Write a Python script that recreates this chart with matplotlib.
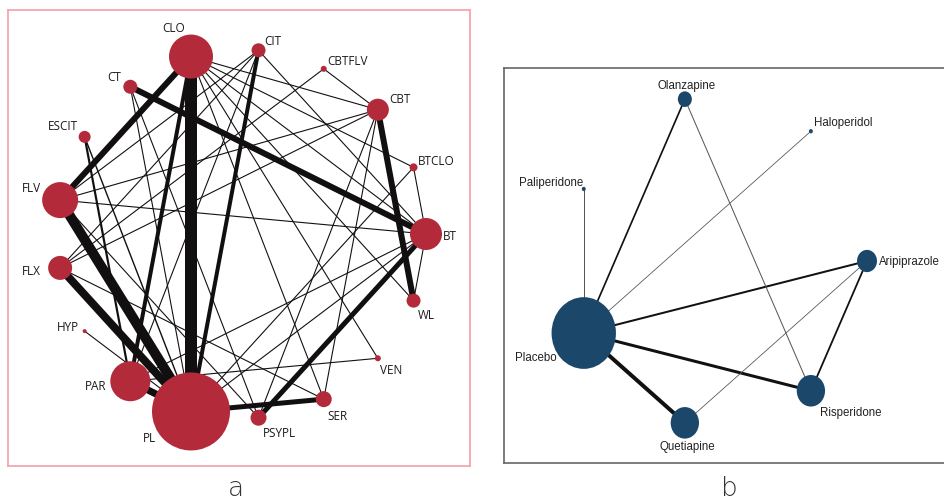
import numpy as np
import matplotlib
matplotlib.use("Agg")
import matplotlib.pyplot as plt
from matplotlib.patches import Circle

# ---------------- data: panel a ----------------
treatments_a = ["BT", "BTCLO", "CBT", "CBTFLV", "CIT", "CLO", "CT", "ESCIT", "FLV",
                "FLX", "HYP", "PAR", "PL", "PSYPL", "SER", "VEN", "WL"]
node_weight_a = [16, 4, 11, 3, 7, 22, 7, 6, 18, 12, 2, 20, 39, 8, 8, 3, 7]
edge_from_a = ["CLO", "FLV", "FLX", "PAR", "CLO", "CT", "CBT", "BT", "PL", "CIT", "CLO", "ESCIT",
               "CLO", "CLO", "CLO", "CLO", "CLO", "CLO",
               "CIT", "CIT", "CIT", "CIT",
               "CBTFLV", "CBTFLV",
               "CBT", "CBT", "CBT", "CBT",
               "BTCLO", "BTCLO",
               "BT", "BT", "BT", "BT",
               "ESCIT", "HYP", "VEN", "CT", "CT", "FLX", "FLV"]
edge_to_a = ["PL", "PL", "PL", "PL", "FLV", "BT", "WL", "PSYPL", "SER", "PL", "PAR", "PAR",
             "CBT", "BTCLO", "BT", "WL", "VEN", "SER",
             "FLV", "PAR", "BT", "FLX",
             "CBT", "FLX",
             "FLV", "FLX", "PSYPL", "SER",
             "BT", "PL",
             "WL", "FLV", "PL", "PAR",
             "PL", "PL", "PAR", "PL", "PSYPL", "SER", "PSYPL"]
edge_weight_a = [12, 10, 8, 7, 6, 6, 6, 5, 5, 4, 4, 2.2,
                 1.1, 1.1, 1.1, 1.1, 1.1, 1.1,
                 1.1, 1.1, 1.1, 1.1,
                 1.1, 1.1,
                 1.1, 1.1, 1.1, 1.1,
                 1.1, 1.1,
                 1.1, 1.1, 1.1, 1.1,
                 1.4, 1.1, 1.1, 1.1, 1.1, 1.1, 1.1]

# ---------------- data: panel b ----------------
treatments_b = ["Aripiprazole", "Haloperidol", "Olanzapine", "Paliperidone",
                "Placebo", "Quetiapine", "Risperidone"]
node_weight_b = [0.067, 0.013, 0.047, 0.013, 0.216, 0.095, 0.095]
edge_from_b = ["Placebo", "Placebo", "Placebo", "Placebo", "Placebo", "Placebo",
               "Olanzapine", "Aripiprazole", "Aripiprazole"]
edge_to_b = ["Quetiapine", "Risperidone", "Aripiprazole", "Olanzapine", "Paliperidone",
             "Haloperidol", "Risperidone", "Risperidone", "Quetiapine"]
edge_weight_b = [4.0, 3.0, 2.0, 1.7, 1.0, 0.8, 1.0, 1.8, 0.8]

# ---------------- styling / layout ----------------
W, H = 945, 502
fig = plt.figure(figsize=(W / 100, H / 100), dpi=100)
fig.patch.set_facecolor("white")
PX2PT = 0.72


def px_axes(x0, y0, x1, y1):
    return fig.add_axes([x0 / W, 1 - y1 / H, (x1 - x0) / W, (y1 - y0) / H])


# ---- panel a ----
ax = px_axes(8, 11, 470, 467)
scale_a = 184.5  # px per data unit
cx_px, cy_px = 241.5, 235
ax.set_xlim((8 - cx_px) / scale_a, (470 - cx_px) / scale_a)
ax.set_ylim((cy_px - 467) / scale_a, (cy_px - 11) / scale_a)
ax.set_xticks([]); ax.set_yticks([])
for s in ax.spines.values():
    s.set_color("#f2a6b0"); s.set_linewidth(1.3)

n_a = len(treatments_a)
ang_a = 2 * np.pi * np.arange(n_a) / n_a
pos_a = {t: (np.cos(a), np.sin(a)) for t, a in zip(treatments_a, ang_a)}

for f, t, w in zip(edge_from_a, edge_to_a, edge_weight_a):
    (x1, y1), (x2, y2) = pos_a[f], pos_a[t]
    ax.plot([x1, x2], [y1, y2], color="#120f10", lw=w * PX2PT,
            solid_capstyle="butt", zorder=1)

for t, r in zip(treatments_a, node_weight_a):
    ax.add_patch(Circle(pos_a[t], r / scale_a, color="#b32b3b", zorder=3, lw=0))

label_off_a = {"BT": (23.5, 1), "BTCLO": (22.5, -7), "CBT": (21.7, -11.7),
               "CBTFLV": (24, -8), "CIT": (14, -10), "CLO": (-17.7, -28.6),
               "CT": (-16, -10), "ESCIT": (-22, -11), "FLV": (-29, -13),
               "FLX": (-29, 3), "HYP": (-17, -5), "PAR": (-35, 4),
               "PL": (-42, 25.6), "PSYPL": (21, 15), "SER": (14, 16),
               "VEN": (13, 11), "WL": (13, 14)}
for t in treatments_a:
    dx, dy = label_off_a[t]
    ax.annotate(t, pos_a[t], xytext=(dx * PX2PT, -dy * PX2PT), textcoords="offset points",
                ha="center", va="center", fontsize=8.5, family="Open Sans",
                fontweight="medium", color="#1e1a1b", zorder=4)

# ---- panel b ----
bx = px_axes(504, 69, 950, 464)
cxb, cyb, rxb, ryb = 718, 262, 149, 166
bx.set_xlim((504 - cxb) / rxb, (950 - cxb) / rxb)
bx.set_ylim((cyb - 464) / ryb, (cyb - 69) / ryb)
bx.set_xticks([]); bx.set_yticks([])
for s in bx.spines.values():
    s.set_color("#666666"); s.set_linewidth(1.2)
bx.spines["right"].set_visible(False)

n_b = len(treatments_b)
ang_b = 2 * np.pi * np.arange(n_b) / n_b
pos_b = {t: (np.cos(a), np.sin(a)) for t, a in zip(treatments_b, ang_b)}

for f, t, w in zip(edge_from_b, edge_to_b, edge_weight_b):
    (x1, y1), (x2, y2) = pos_b[f], pos_b[t]
    col = "#111111" if w >= 1.5 else "#555555"
    bx.plot([x1, x2], [y1, y2], color=col, lw=w * PX2PT, solid_capstyle="butt", zorder=1)

for t, r in zip(treatments_b, node_weight_b):
    bx.add_patch(Circle(pos_b[t], r, color="#1b476b", zorder=3, lw=0))

label_off_b = {"Aripiprazole": (12, 0, "left"), "Haloperidol": (3, -9, "left"),
               "Olanzapine": (2, -14, "center"), "Paliperidone": (-1, -7, "right"),
               "Placebo": (-27, 24, "right"), "Quetiapine": (2, 23, "center"),
               "Risperidone": (9, 21, "left")}
for t in treatments_b:
    dx, dy, ha = label_off_b[t]
    bx.annotate(t, pos_b[t], xytext=(dx * PX2PT, -dy * PX2PT), textcoords="offset points",
                ha=ha, va="center", fontsize=8.3, family="Liberation Sans",
                color="#222222", zorder=4)

# panel letters
fig.text(236 / W, 1 - 489 / H, "a", ha="center", va="center", fontsize=19,
         color="#333333", family="DejaVu Sans", fontweight="light")
fig.text(729 / W, 1 - 489 / H, "b", ha="center", va="center", fontsize=19,
         color="#333333", family="DejaVu Sans", fontweight="light")

fig.savefig("out.png", dpi=100)
